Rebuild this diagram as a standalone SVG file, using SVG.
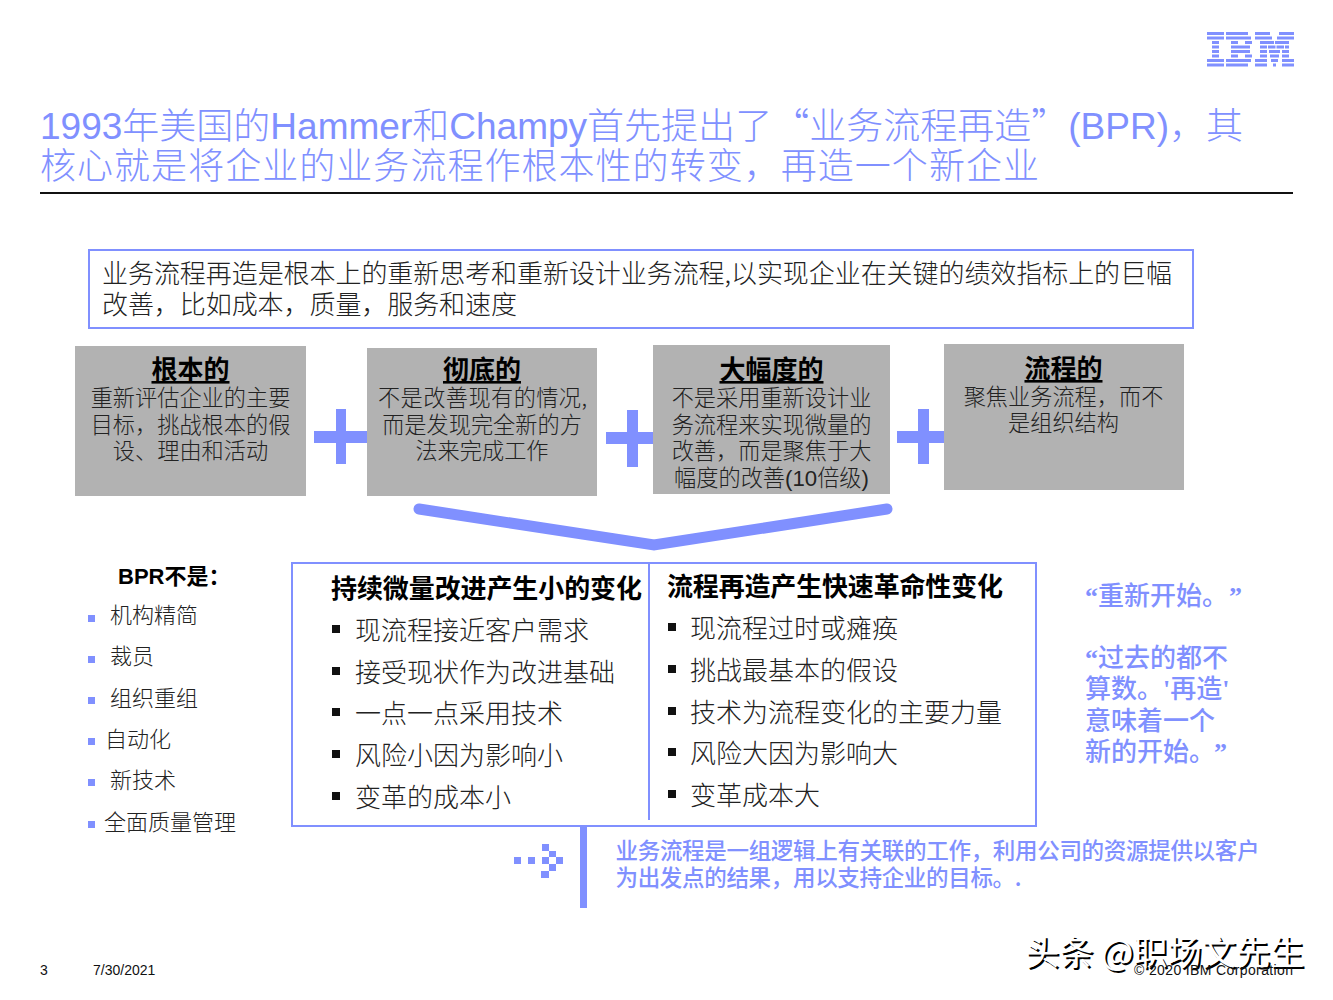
<svg xmlns="http://www.w3.org/2000/svg" width="1333" height="1000" viewBox="0 0 1333 1000">
<style>
text{font-family:"Noto Sans CJK SC","Liberation Sans",sans-serif;fill:#000}
.l{font-family:"Liberation Sans","Noto Sans CJK SC",sans-serif}
.qm{font-family:"Liberation Serif","Noto Sans CJK SC",serif;font-weight:700}
.t{font-size:36px;fill:#8090ff;font-weight:300}
.b26{font-size:26px;fill:#222;font-weight:300}
.h{font-size:26px;font-weight:700;text-anchor:middle;text-decoration:underline}
.g{font-size:22.2px;text-anchor:middle;fill:#222;font-weight:300}
.li{font-size:22px;fill:#222;font-weight:300}
.hd{font-size:26px;font-weight:700}
.q{font-size:26px;fill:#8090ff;font-weight:500}
.f{font-size:22.5px;fill:#8090ff;font-weight:500}
.s{font-size:14px;fill:#111}
.box{fill:#b2b2b2}
.bl{fill:#8090ff}
.fr{fill:#fff;stroke:#8090ff;stroke-width:2}
</style>
<g id="ibm-logo" class="bl">
<path d="M1207 32h17v3h-17zM1207 36.500h17v3h-17zM1212 41h7v3h-7zM1212 45.500h7v3h-7zM1212 50h7v3h-7zM1212 54.500h7v3h-7zM1207 59h17v3h-17zM1207 63.500h17v3h-17z"/>
<path d="M1226 32h22v3h-22zM1226 36.500h25v3h-25zM1231 41h7v3h-7zM1245 41h7v3h-7zM1231 45.500h19v3h-19zM1231 50h19v3h-19zM1231 54.500h7v3h-7zM1245 54.500h7v3h-7zM1226 59h25v3h-25zM1226 63.500h22v3h-22z"/>
<path d="M1255 32h15v3h-15zM1279 32h15v3h-15zM1255 36.500h17v3h-17zM1277 36.500h17v3h-17zM1260 41h14v3h-14zM1275 41h14v3h-14zM1260 45.500h7v3h-7zM1268 45.500h7.500v3h-7.500zM1276.500 45.500h7.500v3h-7.500zM1285 45.500h4v3h-4zM1260 50h7v3h-7zM1269 50h11v3h-11zM1282 50h7v3h-7zM1260 54.500h7v3h-7zM1270 54.500h9v3h-9zM1282 54.500h7v3h-7zM1255 59h12v3h-12zM1271 59h7v3h-7zM1282 59h12v3h-12zM1255 63.500h12v3h-12zM1273 63.500h3v3h-3zM1282 63.500h12v3h-12z"/>
</g>
<g id="title">
<text class="t" x="40" y="139" textLength="1203" lengthAdjust="spacingAndGlyphs"><tspan class="l">1993</tspan>年美国的<tspan class="l">Hammer</tspan>和<tspan class="l">Champy</tspan>首先提出了“业务流程再造”<tspan class="l">(BPR)</tspan>，其</text>
<text class="t" x="40" y="179" textLength="999">核心就是将企业的业务流程作根本性的转变，再造一个新企业</text>
<rect x="40" y="192" width="1253" height="2" fill="#111"/>
</g>
<g id="definition">
<rect class="fr" x="89" y="250" width="1104" height="78"/>
<text class="b26" x="102" y="283" textLength="1070">业务流程再造是根本上的重新思考和重新设计业务流程,以实现企业在关键的绩效指标上的巨幅</text>
<text class="b26" x="102" y="314" textLength="415">改善，比如成本，质量，服务和速度</text>
</g>
<g id="connectors" class="bl">
<rect x="314" y="431" width="53" height="12"/><rect x="336" y="409" width="10" height="55"/>
<rect x="606" y="432" width="52" height="12"/><rect x="627" y="410" width="11" height="57"/>
<rect x="897" y="431" width="53" height="12"/><rect x="918" y="409" width="11" height="55"/>
<polyline points="419,509 654,545 887,509" fill="none" stroke="#8090ff" stroke-width="11" stroke-linecap="round" stroke-linejoin="miter"/>
</g>
<g id="node-radical">
<rect class="box" x="75" y="346" width="231" height="150"/>
<text class="h" x="190.500" y="379">根本的</text>
<text class="g" x="190.500" y="406">重新评估企业的主要</text>
<text class="g" x="190.500" y="433">目标，挑战根本的假</text>
<text class="g" x="190.500" y="459">设、理由和活动</text>
</g>
<g id="node-thorough">
<rect class="box" x="367" y="348" width="230" height="148"/>
<text class="h" x="482" y="379">彻底的</text>
<text class="g" x="378" y="406" style="text-anchor:start" textLength="209">不是改善现有的情况,</text>
<text class="g" x="482" y="433">而是发现完全新的方</text>
<text class="g" x="482" y="459">法来完成工作</text>
</g>
<g id="node-dramatic">
<rect class="box" x="653" y="345" width="237" height="149"/>
<text class="h" x="771.500" y="379">大幅度的</text>
<text class="g" x="771.500" y="406">不是采用重新设计业</text>
<text class="g" x="771.500" y="433">务流程来实现微量的</text>
<text class="g" x="771.500" y="459">改善，而是聚焦于大</text>
<text class="g" x="771.500" y="486">幅度的改善<tspan class="l">(10</tspan>倍级<tspan class="l">)</tspan></text>
</g>
<g id="node-process">
<rect class="box" x="944" y="344" width="240" height="146"/>
<text class="h" x="1063.500" y="378">流程的</text>
<text class="g" x="1063.500" y="405">聚焦业务流程，而不</text>
<text class="g" x="1063.500" y="431">是组织结构</text>
</g>
<g id="bpr-not">
<text x="118" y="584" font-size="22" font-weight="700"><tspan class="l">BPR</tspan>不是：</text>
<g class="bl"><rect x="88" y="615" width="7" height="7"/><rect x="88" y="656" width="7" height="7"/><rect x="88" y="697" width="7" height="7"/><rect x="88" y="738" width="7" height="7"/><rect x="88" y="779" width="7" height="7"/><rect x="88" y="821" width="7" height="7"/></g>
<text class="li" x="110" y="623">机构精简</text>
<text class="li" x="110" y="664">裁员</text>
<text class="li" x="110" y="706">组织重组</text>
<text class="li" x="105" y="747">自动化</text>
<text class="li" x="110" y="788">新技术</text>
<text class="li" x="104" y="830">全面质量管理</text>
</g>
<g id="comparison">
<rect class="fr" x="292" y="563" width="744" height="263"/>
<rect x="648" y="563" width="2" height="257" fill="#8090ff"/>
<text class="hd" x="331" y="598" textLength="311">持续微量改进产生小的变化</text>
<text class="hd" x="667" y="596" textLength="336">流程再造产生快速革命性变化</text>
<g fill="#111"><rect x="332" y="625" width="8" height="8"/><rect x="332" y="667" width="8" height="8"/><rect x="332" y="708" width="8" height="8"/><rect x="332" y="750" width="8" height="8"/><rect x="332" y="792" width="8" height="8"/>
<rect x="668" y="623" width="8" height="8"/><rect x="668" y="665" width="8" height="8"/><rect x="668" y="707" width="8" height="8"/><rect x="668" y="748" width="8" height="8"/><rect x="668" y="790" width="8" height="8"/></g>
<text class="b26" x="355" y="640">现流程接近客户需求</text>
<text class="b26" x="355" y="682">接受现状作为改进基础</text>
<text class="b26" x="355" y="723">一点一点采用技术</text>
<text class="b26" x="355" y="765">风险小因为影响小</text>
<text class="b26" x="355" y="807">变革的成本小</text>
<text class="b26" x="690" y="638">现流程过时或瘫痪</text>
<text class="b26" x="690" y="680">挑战最基本的假设</text>
<text class="b26" x="690" y="722">技术为流程变化的主要力量</text>
<text class="b26" x="690" y="763">风险大因为影响大</text>
<text class="b26" x="690" y="805">变革成本大</text>
</g>
<g id="quotes">
<text class="q" x="1085" y="605"><tspan class="qm">“</tspan>重新开始。<tspan class="qm" dx="14">”</tspan></text>
<text class="q" x="1085" y="667"><tspan class="qm">“</tspan>过去的都不</text>
<text class="q" x="1085" y="698">算数。<tspan class="qm">'</tspan>再造<tspan class="qm">'</tspan></text>
<text class="q" x="1085" y="730">意味着一个</text>
<text class="q" x="1085" y="761">新的开始。<tspan class="qm" dx="12">”</tspan></text>
</g>
<g id="process-note">
<rect class="bl" x="580" y="826" width="7" height="82"/>
<g class="bl"><rect x="514" y="857" width="7" height="7"/><rect x="528" y="857" width="7" height="7"/><rect x="542" y="844" width="7" height="7"/><rect x="549" y="851" width="7" height="6"/><rect x="542" y="857" width="7" height="7"/><rect x="556" y="857" width="7" height="7"/><rect x="549" y="864" width="7" height="7"/><rect x="541" y="871" width="8" height="7"/></g>
<text class="f" x="615.500" y="859" textLength="644">业务流程是一组逻辑上有关联的工作，利用公司的资源提供以客户</text>
<text class="f" x="615.500" y="886" textLength="406">为出发点的结果，用以支持企业的目标。.</text>
</g>
<g id="footer">
<text class="s l" x="40" y="975">3</text>
<text class="s l" x="93" y="975">7/30/2021</text>
<text font-size="34.200" x="1027" y="967" fill="#000">头条 @职场文先生</text>
<text font-size="34.200" x="1025" y="965" style="fill:#fff">头条 @职场文先生</text>
<text class="s l" x="1134" y="975" textLength="159">© 2020 IBM Corporation</text>
</g>
</svg>
